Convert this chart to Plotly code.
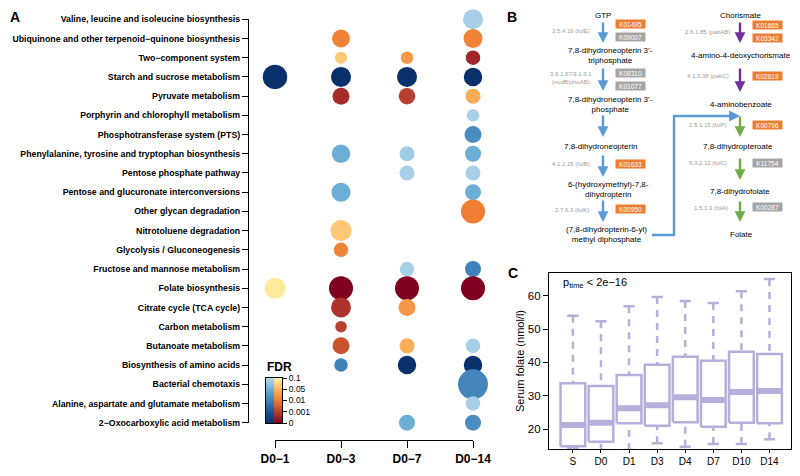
import numpy as np
import plotly.graph_objects as go

# ---------------- Panel A data ----------------
pathways = [
    "Valine, leucine and isoleucine biosynthesis",
    "Ubiquinone and other terpenoid\u2212quinone biosynthesis",
    "Two\u2212component system",
    "Starch and sucrose metabolism",
    "Pyruvate metabolism",
    "Porphyrin and chlorophyll metabolism",
    "Phosphotransferase system (PTS)",
    "Phenylalanine, tyrosine and tryptophan biosynthesis",
    "Pentose phosphate pathway",
    "Pentose and glucuronate interconversions",
    "Other glycan degradation",
    "Nitrotoluene degradation",
    "Glycolysis / Gluconeogenesis",
    "Fructose and mannose metabolism",
    "Folate biosynthesis",
    "Citrate cycle (TCA cycle)",
    "Carbon metabolism",
    "Butanoate metabolism",
    "Biosynthesis of amino acids",
    "Bacterial chemotaxis",
    "Alanine, aspartate and glutamate metabolism",
    "2\u2212Oxocarboxylic acid metabolism",
]
comparisons = ["D0\u22121", "D0\u22123", "D0\u22127", "D0\u221214"]

dot_pathway    = [0, 1, 1, 2, 2, 2, 3, 3, 3, 3, 4, 4, 4, 5, 6, 7, 7, 7, 8, 8, 9, 9, 10, 11, 12, 13, 13,
                  14, 14, 14, 14, 15, 15, 16, 17, 17, 17, 18, 18, 18, 19, 20, 21, 21]
dot_comparison = [3, 1, 3, 1, 2, 3, 0, 1, 2, 3, 1, 2, 3, 3, 3, 1, 2, 3, 2, 3, 1, 3, 3, 1, 1, 2, 3,
                  0, 1, 2, 3, 1, 2, 1, 1, 2, 3, 1, 2, 3, 3, 3, 2, 3]
dot_genes      = [20, 18, 19, 12, 12.5, 14.5, 24.5, 20, 20, 18.5, 17, 16.5, 15, 12.5, 17, 18.5, 15, 16, 15, 15,
                  19, 16, 24, 21, 14.5, 14.5, 16, 21, 24, 24, 24, 20, 17, 11.5, 17, 15, 14.5, 13.5, 18.5,
                  18.5, 30, 14.5, 16, 16]
dot_fdr        = [0.09, 0.016, 0.016, 0.065, 0.03, 0.0006, 0, 0, 0, 0, 0.0007, 0.001, 0.045, 0.09, 0.02,
                  0.05, 0.085, 0.05, 0.09, 0.09, 0.05, 0.05, 0.012, 0.065, 0.016, 0.09, 0.012, 0.093,
                  0, 0, 0, 0.0008, 0.03, 0.001, 0.004, 0.045, 0.09, 0.012, 0, 0, 0.015, 0.09, 0.05, 0.02]
dot_direction  = ["down", "up", "up", "up", "up", "up", "down", "down", "down", "down", "up", "up", "up",
                  "down", "down", "down", "down", "down", "down", "down", "down", "down", "up", "up", "up",
                  "down", "down", "up", "up", "up", "up", "up", "up", "up", "up", "up", "down", "down",
                  "down", "down", "down", "down", "down", "down"]

fdr_breaks = [0, 0.001, 0.01, 0.05, 0.1]
fdr_labels = ["0", "0.001", "0.01", "0.05", "0.1"]

# ---------------- Panel C data ----------------
time_points = ["S", "D0", "D1", "D3", "D4", "D7", "D10", "D14"]
folate_lower  = [14.2, 13.5, 13.7, 15.7, 14.7, 15.5, 15.5, 16.9]
folate_q1     = [14.8, 16.2, 21.7, 21.0, 22.0, 20.7, 21.9, 21.7]
folate_median = [21.2, 21.9, 26.2, 27.1, 29.5, 28.7, 31.1, 31.4]
folate_q3     = [33.7, 32.9, 36.2, 39.3, 41.7, 40.5, 43.2, 42.5]
folate_upper  = [54.0, 52.3, 56.8, 59.6, 58.4, 57.8, 61.3, 65.0]

# ---------------- Panel B content ----------------
left_nodes = ["GTP", "7,8-dihydroneopterin 3\u2019-<br>triphosphate", "7,8-dihydroneopterin 3\u2019-<br>phosphate",
              "7,8-dihydroneopterin", "6-(hydroxymethyl)-7,8-<br>dihydropterin",
              "(7,8-dihydropterin-6-yl)<br>methyl diphosphate"]
right_nodes = ["Chorismate", "4-amino-4-deoxychorismate", "4-aminobenzoate", "7,8-dihydropteroate",
               "7,8-dihydrofolate", "Folate"]
left_enzymes = ["3.5.4.16 (folE)", "3.6.1.67/3.1.3.1<br>(nudB/phoAB)", "", "4.1.2.25 (folB)", "2.7.6.3 (folK)"]
right_enzymes = ["2.6.1.85 (pabAB)", "4.1.3.38 (pabC)", "2.5.1.15 (folP)", "6.3.2.12 (folC)", "1.5.1.3 (folA)"]
left_kos = ["K01495", "K09007", "K08310", "K01077", "K01633", "K00950"]
left_ko_found = [True, False, False, False, True, True]
right_kos = ["K01665", "K03342", "K02619", "K00796", "K11754", "K00287"]
right_ko_found = [True, True, True, True, False, False]

# ---------------- helpers ----------------
# the page body has an 8px margin; the figure fills the rest of the 800x476 window
OFF = 8
W, H = 800 - 2 * OFF, 476 - 2 * OFF
def px(x):
    return min(max((x - OFF) / W, 0), 1)
def py(y):
    return min(max(1 - (y - OFF) / H, 0), 1)

blue_scale = [[0, "#08306b"], [0.25, "#1d5393"], [0.5, "#3f7fb8"], [0.75, "#6baed6"], [1, "#b7d7ed"]]
orange_scale = [[0, "#7f0020"], [0.25, "#b8402f"], [0.5, "#ee7a30"], [0.75, "#fdb45e"], [1, "#fff3a5"]]
FONT = "Liberation Sans"

fig = go.Figure()

# ---- Panel A dots ----
pos = np.interp(dot_fdr, fdr_breaks, [0, 1, 2, 3, 4])
for direction, scale in (("down", blue_scale), ("up", orange_scale)):
    idx = [i for i, d in enumerate(dot_direction) if d == direction]
    fig.add_trace(go.Scatter(
        x=[dot_comparison[i] for i in idx],
        y=[dot_pathway[i] for i in idx],
        mode="markers",
        marker=dict(size=[dot_genes[i] for i in idx], color=[pos[i] for i in idx],
                    colorscale=scale, cmin=0, cmax=4, line=dict(width=0), opacity=1),
        cliponaxis=False, showlegend=False, hoverinfo="skip",
        xaxis="x", yaxis="y"))

# ---- Legend gradient ----
n = 60
edges = np.linspace(0, 4, n + 1)
centers = (edges[:-1] + edges[1:]) / 2
for col, scale in ((0, blue_scale), (1, orange_scale)):
    fig.add_trace(go.Heatmap(
        x=[col], y=centers, z=[[c] for c in centers], colorscale=scale, zmin=0, zmax=4,
        showscale=False, hoverinfo="skip", xaxis="x2", yaxis="y2"))

# ---- Panel C boxes ----
hw, cw = 0.44, 0.2
box_x, box_y, med_x, med_y, wh_x, wh_y, cap_x, cap_y = [], [], [], [], [], [], [], []
for i in range(len(time_points)):
    box_x += [i - hw, i + hw, i + hw, i - hw, i - hw, None]
    box_y += [folate_q1[i], folate_q1[i], folate_q3[i], folate_q3[i], folate_q1[i], None]
    med_x += [i - hw, i + hw, None]
    med_y += [folate_median[i]] * 2 + [None]
    wh_x += [i, i, None, i, i, None]
    wh_y += [folate_upper[i], folate_q3[i], None, folate_lower[i], folate_q1[i], None]
    cap_x += [i - cw, i + cw, None, i - cw, i + cw, None]
    cap_y += [folate_upper[i]] * 2 + [None] + [folate_lower[i]] * 2 + [None]
lav = "#b4afdb"
for xs, ys, w, dash in ((wh_x, wh_y, 2.5, "7px,6px"), (cap_x, cap_y, 2.5, "solid"),
                        (box_x, box_y, 2.5, "solid"), (med_x, med_y, 6, "solid")):
    fig.add_trace(go.Scatter(x=xs, y=ys, mode="lines", line=dict(color=lav, width=w, dash=dash),
                             connectgaps=False, showlegend=False, hoverinfo="skip",
                             xaxis="x3", yaxis="y3"))

# ---------------- layout ----------------
annotations = []
shapes = []

def note(text, x, y, size, color="black", xanchor="center", **kw):
    d = dict(text=text, x=px(x), y=py(y), xref="paper", yref="paper", showarrow=False,
             xanchor=xanchor, yanchor="middle", font=dict(size=size, family=FONT, color=color))
    d.update(kw)
    annotations.append(d)

# Panel labels
for lab, x, y in (("A", 15, 17), ("B", 512, 17), ("C", 513, 273)):
    note("<b>%s</b>" % lab, x, y, 14)

# FDR title
note("<b>FDR</b>", 265, 367, 12, xanchor="left")

# p_time
note("p<sub>time</sub> &lt; 2e\u221216", 561, 283, 11, xanchor="left")

# Panel B nodes
left_node_xy = [(603, 15), (610, 56), (610, 104), (600, 147), (608, 189), (606, 235)]
right_node_xy = [(740, 15), (741, 56), (741, 104), (738, 147), (740, 191), (741, 235)]
for txt, (x, y) in list(zip(left_nodes, left_node_xy)) + list(zip(right_nodes, right_node_xy)):
    note(txt, x, y, 8)

# enzymes
left_enz_xy = [(571, 31), (571, 78.5), None, (571, 164), (572, 210)]
right_enz_xy = [(707, 32), (708, 76), (708, 125), (708, 163), (711, 208)]
for txt, xy in list(zip(left_enzymes, left_enz_xy)) + list(zip(right_enzymes, right_enz_xy)):
    if not txt or xy is None:
        continue
    note(txt, xy[0], xy[1], 6, color="#9c9c9c")

# KO boxes
left_ko_y = [24.3, 36.7, 72.7, 85.7, 164.3, 209]
right_ko_y = [25.3, 38, 76, 125.3, 163.3, 206.7]
for kos, found, ys, xc in ((left_kos, left_ko_found, left_ko_y, 630), (right_kos, right_ko_found, right_ko_y, 767.5)):
    for k, f, y in zip(kos, found, ys):
        note(k, xc, y, 6.5, color="white", width=28, height=7, borderpad=0.5,
             bgcolor="#ed7d31" if f else "#a5a5a5")

# Arrows
arrow_specs = [(603, 21, 43, "#5b9bd5"), (603, 67, 91, "#5b9bd5"), (603, 114, 137, "#5b9bd5"),
               (603, 154, 177, "#5b9bd5"), (603, 199, 222, "#5b9bd5"),
               (740, 21, 43, "#7030a0"), (740, 67, 92, "#7030a0"),
               (740, 115, 137, "#70ad47"), (740, 157, 180, "#70ad47"), (740, 200, 222, "#70ad47")]
for x, y0, y1, c in arrow_specs:
    annotations.append(dict(text="", x=px(x), y=py(y1), xref="paper", yref="paper", showarrow=True,
                            ax=0, ay=-(y1 - y0), arrowhead=2, arrowsize=0.9, arrowwidth=2.4,
                            arrowcolor=c, standoff=0))
# connector
shapes.append(dict(type="path", xref="paper", yref="paper",
                   path="M %f %f L %f %f L %f %f L %f %f" % (px(652), py(235), px(674), py(235),
                                                             px(674), py(116), px(728), py(116)),
                   line=dict(color="#5b9bd5", width=2.4)))
annotations.append(dict(text="", x=px(740), y=py(116), xref="paper", yref="paper", showarrow=True,
                        ax=-14, ay=0, arrowhead=2, arrowsize=0.9, arrowwidth=2.4, arrowcolor="#5b9bd5",
                        standoff=0))

common = dict(automargin=False, showgrid=False, zeroline=False, showline=True,
              linecolor="black", linewidth=1.2, tickcolor="black")

fig.update_layout(
    width=W, height=H, margin=dict(l=0, r=0, t=0, b=0, autoexpand=False),
    paper_bgcolor="white", plot_bgcolor="rgba(0,0,0,0)",
    font=dict(family=FONT, color="black"),
    annotations=annotations, shapes=shapes,
    xaxis=dict(domain=[px(275), px(473)], range=[0, 3], anchor="free", position=py(440),
               tickvals=list(range(4)), ticktext=["<b>%s</b>" % c for c in comparisons],
               tickfont=dict(size=12, family=FONT), ticks="outside", ticklen=7, tickwidth=1, **common),
    yaxis=dict(domain=[py(422.7), py(19.3)], range=[21, 0], anchor="free", position=px(248),
               tickvals=list(range(len(pathways))), ticktext=["<b>%s</b>" % p for p in pathways],
               tickfont=dict(size=8.75, family=FONT), ticks="outside", ticklen=6, tickwidth=1, **common),
    xaxis2=dict(domain=[px(266), px(282)], range=[-0.5, 1.5], anchor="y2", showticklabels=False,
                ticks="", mirror=True, **common),
    yaxis2=dict(domain=[py(423), py(378)], range=[0, 4], anchor="x2", side="right",
                tickvals=[0, 1, 2, 3, 4], ticktext=fdr_labels, tickfont=dict(size=8.5, family=FONT),
                ticks="outside", ticklen=4, mirror=True, **common),
    xaxis3=dict(domain=[px(549), px(791.4)], range=[-0.85, 7.78], anchor="y3",
                tickvals=list(range(len(time_points))), ticktext=time_points,
                tickfont=dict(size=10, family=FONT), ticks="outside", ticklen=3, mirror=True, **common),
    yaxis3=dict(domain=[py(449), py(273)], range=[14.0, 66.8], anchor="x3",
                tickvals=[20, 30, 40, 50, 60], tickfont=dict(size=11.5, family=FONT),
                ticks="outside", ticklen=5, mirror=True,
                title=dict(text="Serum folate (nmol/l)", font=dict(size=11, family=FONT), standoff=0),
                **common),
)

fig.write_html("out.html")
